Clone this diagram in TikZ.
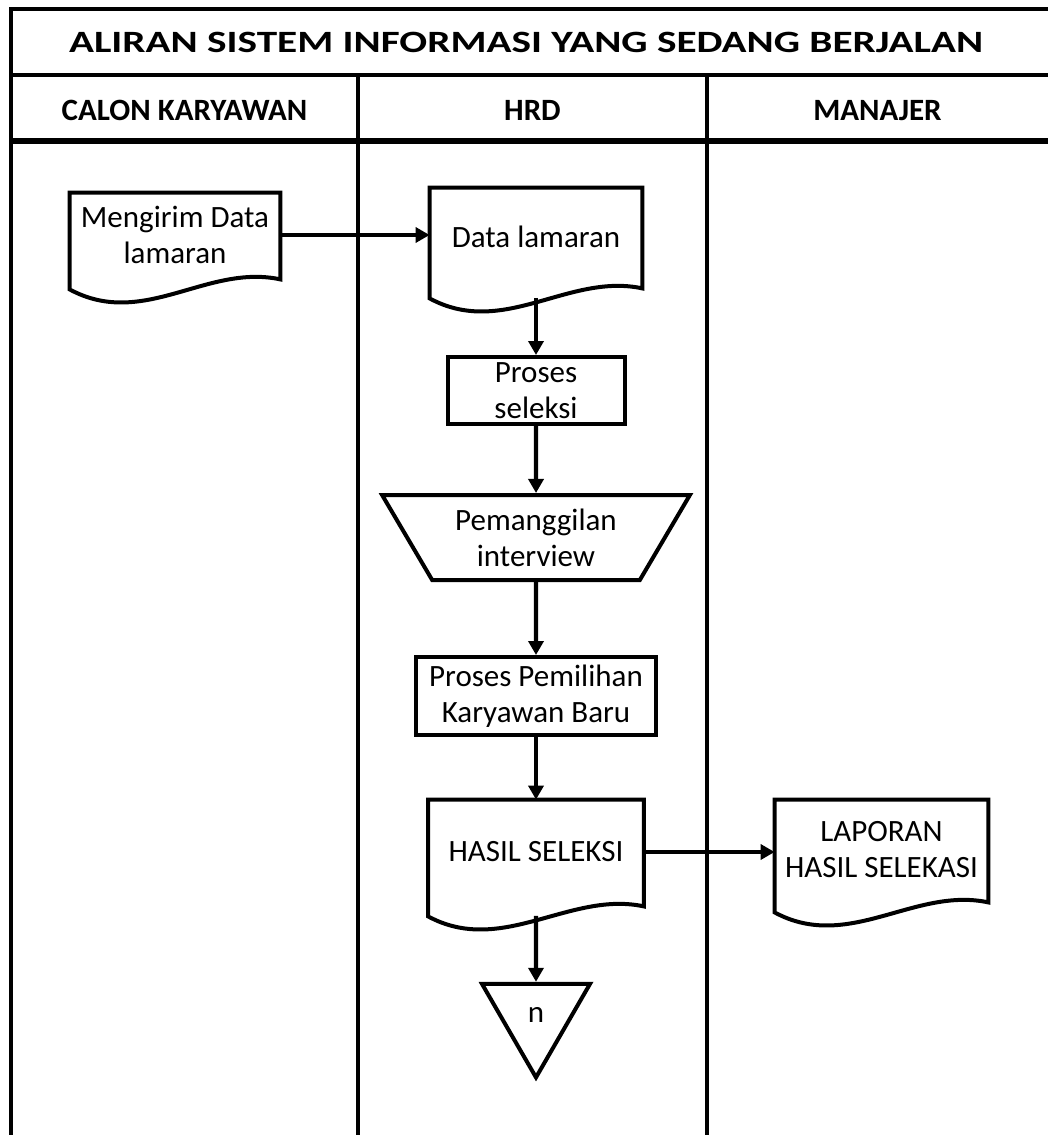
\documentclass[tikz,border=0pt]{standalone}
\usepackage{fontspec}
\setmainfont{Carlito}
\usetikzlibrary{arrows.meta,shapes.geometric}

% outline of a document symbol round a named node
\newcommand{\docwave}[1]{%
  \draw[line width=2pt,line join=miter] (#1.north west) -- (#1.north east) -- ([yshift=-1pt]#1.south east)
    .. controls +(-37pt,8pt) and +(37pt,-20pt) .. ([yshift=-6pt]#1.south west) -- cycle;}

\begin{document}
\begin{tikzpicture}[x=0.5pt,y=-0.5pt,
  txt/.style={font=\fontsize{15.5}{18}\selectfont,align=center},
  head/.style={font=\bfseries\fontsize{15.5}{18}\selectfont,anchor=base},
  doc/.style={txt,inner sep=0pt},
  proc/.style={txt,draw,line width=2pt,inner sep=0pt},
  flow/.style={line width=2.2pt,-{Triangle[length=7pt,width=7.5pt]}}]

\useasboundingbox (0,0) rectangle (1048,1135);

% frame and lanes
\draw[line width=2pt] (11,1135) -- (11,9) -- (1048,9);
\draw[line width=2pt] (11,75) -- (1048,75);
\draw[line width=3pt] (11,141) -- (1048,141);
\draw[line width=2pt] (358,75) -- (358,1135);
\draw[line width=2pt] (707,75) -- (707,1135);

\node[head,xscale=1.33,transform shape] (title) at (526,53) {ALIRAN SISTEM INFORMASI YANG SEDANG BERJALAN};
\node[head] (calon) at (184.5,120) {CALON KARYAWAN};
\node[head] (hrd) at (532.5,120) {HRD};
\node[head] (manajer) at (877.5,120) {MANAJER};

% symbols
\node[doc,minimum width=105pt,minimum height=42pt] (mengirim) at (175,235) {Mengirim Data\\lamaran};
\node[doc,minimum width=106pt,minimum height=49pt] (dlamaran) at (536,237) {Data lamaran};
\node[proc,minimum width=88.5pt,minimum height=33.5pt] (pseleksi) at (536,390.5) {Proses\\seleksi};
\node[txt,draw,line width=2pt,trapezium,shape border rotate=180,trapezium stretches=true,
  trapezium left angle=56,trapezium right angle=56,minimum width=154pt,minimum height=42.5pt,inner sep=0pt]
  (panggil) at (536,537.5) {Pemanggilan\\interview};
\node[proc,minimum width=120pt,minimum height=39pt] (pemilihan) at (536,696) {Proses Pemilihan\\Karyawan Baru};
\node[doc,minimum width=107.5pt,minimum height=52pt] (hasil) at (536,852) {HASIL SELEKSI};
\node[doc,minimum width=106.5pt,minimum height=50pt] (laporan) at (881.5,850) {LAPORAN\\HASIL SELEKASI};
\node[txt,draw,line width=2pt,regular polygon,regular polygon sides=3,shape border rotate=180,
  minimum size=62.4pt,inner sep=0pt] (conn) at (536,1015) {n};

\docwave{mengirim}
\docwave{dlamaran}
\docwave{hasil}
\docwave{laporan}

% connectors
\draw[flow] (mengirim.east) -- (mengirim.east -| dlamaran.west);
\draw[flow] ([yshift=-5.75pt]dlamaran.south) -- (pseleksi.north);
\draw[flow] (pseleksi.south) -- (panggil.north);
\draw[flow] (panggil.south) -- (pemilihan.north);
\draw[flow] (pemilihan.south) -- (hasil.north);
\draw[flow] (hasil.east) -- (hasil.east -| laporan.west);
\draw[flow] ([yshift=-5.75pt]hasil.south) -- (conn.north);

\end{tikzpicture}
\end{document}
